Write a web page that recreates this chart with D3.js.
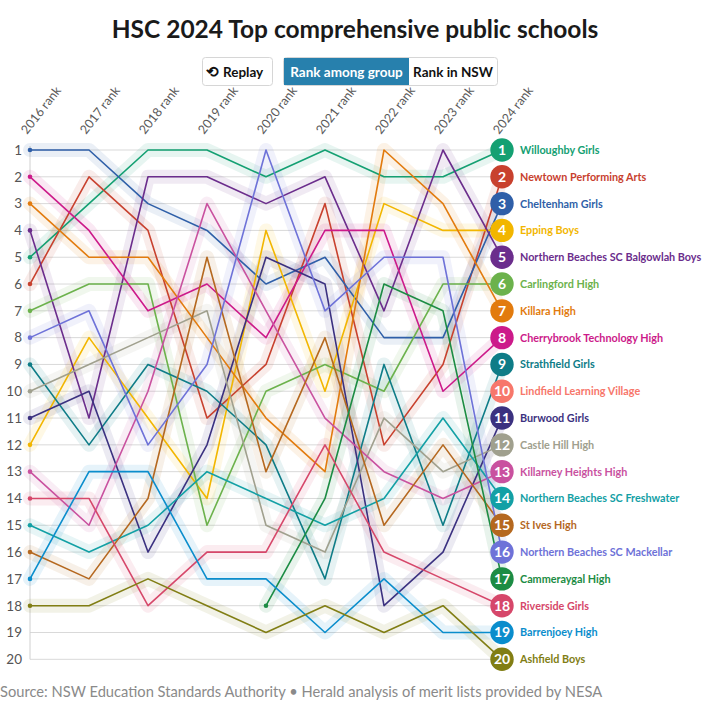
<!DOCTYPE html>
<html><head><meta charset="utf-8">
<script src="https://cdn.jsdelivr.net/npm/d3@7"></script>
<style>
html,body{margin:0;padding:0;background:#fff;}
svg{display:block;}
</style></head>
<body>
<svg id="chart" width="706" height="702"></svg>
<script>
const years = ["2016","2017","2018","2019","2020","2021","2022","2023","2024"];
const yearLabels = ["2016 rank","2017 rank","2018 rank","2019 rank","2020 rank","2021 rank","2022 rank","2023 rank","2024 rank"];
const rankTicks = [1,2,3,4,5,6,7,8,9,10,11,12,13,14,15,16,17,18,19,20];
const schools = ["Willoughby Girls","Newtown Performing Arts","Cheltenham Girls","Epping Boys","Northern Beaches SC Balgowlah Boys","Carlingford High","Killara High","Cherrybrook Technology High","Strathfield Girls","Lindfield Learning Village","Burwood Girls","Castle Hill High","Killarney Heights High","Northern Beaches SC Freshwater","St Ives High","Northern Beaches SC Mackellar","Cammeraygal High","Riverside Girls","Barrenjoey High","Ashfield Boys"];
const colors = ["#14a072","#c8412e","#2f5fa8","#f2b600","#6b2d8c","#6cb24c","#e27b0e","#cc1a8a","#0e7c87","#f7776b","#3b3180","#a0a08e","#c9519f","#13a0a5","#b5681f","#6e72d8","#1c8c44","#d6476a","#0a8dcc","#817e14"];
const ranks = [
  [5,3,1,1,2,1,2,2,1],
  [6,2,4,11,9,3,12,9,2],
  [1,1,3,4,6,5,8,8,3],
  [12,8,11,14,4,10,3,4,4],
  [4,11,2,2,3,2,7,1,5],
  [7,6,6,15,10,9,10,6,6],
  [3,5,5,8,11,13,1,3,7],
  [2,4,7,6,8,4,4,10,8],
  [9,12,9,10,12,17,9,15,9],
  [null,null,null,null,null,null,null,null,10],
  [11,10,16,12,5,6,18,16,11],
  [10,9,8,7,15,16,11,13,12],
  [13,15,10,3,7,11,13,14,13],
  [15,16,15,13,14,15,14,11,14],
  [16,17,14,5,13,8,15,12,15],
  [8,7,12,9,1,7,5,5,16],
  [null,null,null,null,18,14,6,7,17],
  [14,14,18,16,16,12,16,17,18],
  [17,13,13,17,17,19,17,19,19],
  [18,18,17,18,19,18,19,18,20]
];

const svg = d3.select("#chart");
const font = "'Source Sans Pro','Lato','Open Sans',sans-serif";

// Title
svg.append("text").attr("x",355).attr("y",38).attr("text-anchor","middle")
  .attr("font-family",font).attr("font-weight",700).attr("font-size",24.5).attr("fill","#1a1a1a")
  .text("HSC 2024 Top comprehensive public schools");

// Buttons
const bg = svg.append("g").attr("font-family",font).attr("font-weight",700).attr("font-size",13.5);
bg.append("rect").attr("x",202.5).attr("y",57.5).attr("width",70).attr("height",28).attr("rx",3)
  .attr("fill","#fff").attr("stroke","#d6d6d6");
bg.append("text").attr("x",206).attr("y",76.5).attr("fill","#111").attr("font-size",15).text("⟲");
bg.append("text").attr("x",223).attr("y",76.5).attr("fill","#111").text("Replay");
bg.append("rect").attr("x",283.5).attr("y",57.5).attr("width",214).attr("height",28).attr("rx",3)
  .attr("fill","#fff").attr("stroke","#d6d6d6");
bg.append("rect").attr("x",284).attr("y",58).attr("width",125).attr("height",27).attr("fill","#2780ad");
bg.append("text").attr("x",346.5).attr("y",76.5).attr("text-anchor","middle").attr("fill","#fff").text("Rank among group");
bg.append("text").attr("x",453).attr("y",76.5).attr("text-anchor","middle").attr("fill","#111").text("Rank in NSW");

// Scales
const x = d3.scalePoint().domain(years).range([30,502]);
const y = d3.scaleLinear().domain([1,20]).range([150,659.3]);

// Grid
const grid = svg.append("g");
grid.selectAll("line.g").data(rankTicks).join("line")
  .attr("x1",30).attr("x2",502).attr("y1",d=>y(d)).attr("y2",d=>y(d))
  .attr("stroke","#d9d9d9").attr("stroke-width",1);
grid.append("line").attr("x1",30).attr("x2",30).attr("y1",y(1)-4).attr("y2",y(20))
  .attr("stroke","#d0d0d0");

// Axis labels
const yAxis = d3.axisLeft(y).tickValues(rankTicks).tickSize(0).tickPadding(8).tickFormat(d3.format("d"));
const ax = svg.append("g").attr("transform","translate(30,0)").call(yAxis);
ax.select(".domain").remove();
ax.selectAll("text").attr("font-family",font).attr("font-size",13.5).attr("fill","#555");

// Year headers
svg.append("g").selectAll("text").data(years).join("text")
  .attr("transform",(d)=>`translate(${x(d)-3},135) rotate(-52)`)
  .attr("font-family",font).attr("font-size",12.5).attr("fill","#5a5a5a")
  .text((d,i)=>yearLabels[i]);

// Lines
const series = schools.map((s,i)=>({name:s,color:colors[i],pts:years.map((yr,j)=>({yr,r:ranks[i][j]})).filter(p=>p.r!=null)}));
const line = d3.line().x(p=>x(p.yr)).y(p=>y(p.r));

const halo = svg.append("g").attr("fill","none");
series.filter(s=>s.pts.length>1).forEach(s=>{
  halo.append("path").attr("d",line(s.pts)).attr("stroke",s.color).attr("stroke-opacity",0.1)
    .attr("stroke-width",14).attr("stroke-linejoin","round").attr("stroke-linecap","round");
});
const lines = svg.append("g").attr("fill","none");
series.filter(s=>s.pts.length>1).forEach(s=>{
  lines.append("path").attr("d",line(s.pts)).attr("stroke",s.color)
    .attr("stroke-width",1.6).attr("stroke-linejoin","round");
  lines.append("circle").attr("cx",x(s.pts[0].yr)).attr("cy",y(s.pts[0].r)).attr("r",2.3).attr("fill",s.color);
});

// End circles and labels
const ends = svg.append("g");
series.forEach((s,i)=>{
  const last = s.pts[s.pts.length-1];
  const cx = x(last.yr), cy = y(last.r);
  ends.append("circle").attr("cx",cx).attr("cy",cy).attr("r",11.7).attr("fill",s.color);
  ends.append("text").attr("x",cx).attr("y",cy+5).attr("text-anchor","middle")
    .attr("font-family",font).attr("font-weight",700).attr("font-size",14).attr("fill","#fff")
    .text(last.r);
  ends.append("text").attr("x",520).attr("y",cy+4).attr("font-family",font).attr("font-weight",700)
    .attr("font-size",10.8).attr("fill",s.color).text(s.name);
});

// Source
svg.append("text").attr("x",0).attr("y",697).attr("font-family",font).attr("font-size",14.7).attr("fill","#8a8a8a")
  .text("Source: NSW Education Standards Authority • Herald analysis of merit lists provided by NESA");
</script>
</body></html>
